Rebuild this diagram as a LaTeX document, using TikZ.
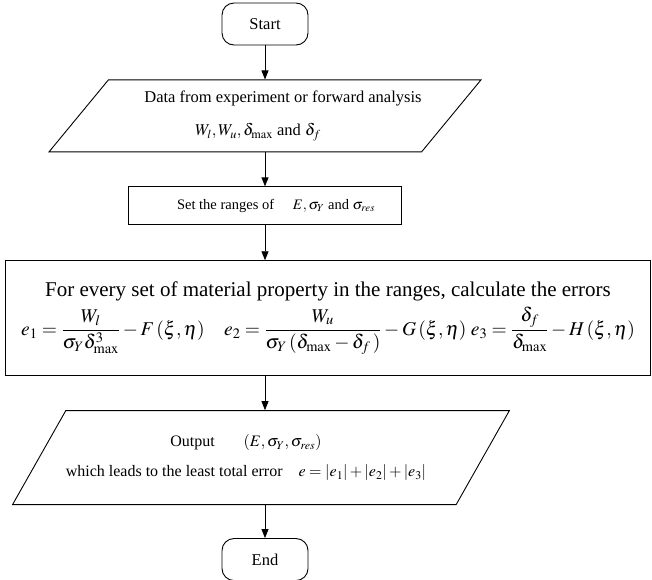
\documentclass[tikz,border=0pt]{standalone}
\usepackage{mathptmx}
\usepackage{fontspec}
\setmainfont{Liberation Serif}
\usetikzlibrary{arrows.meta,positioning,shapes.geometric}

\begin{document}
\begin{tikzpicture}[
            x=1pt, y=1pt,
            % Stili dei blocchi
            terminal/.style={rectangle, rounded corners=12pt, draw=black, line width=0.9pt, minimum width=86pt, minimum height=42pt, font=\fontsize{16.5}{20}\selectfont},
            io/.style={trapezium, trapezium stretches body, draw=black, line width=0.9pt, align=center, inner xsep=0pt, font=\fontsize{16.5}{20}\selectfont},
            process/.style={rectangle, draw=black, line width=0.9pt, align=center, inner xsep=2pt},
            arrow/.style={line width=0.8pt, -{Triangle[length=9pt,width=7pt]}}
        ]

        \useasboundingbox (0,0) rectangle (652,-579);

        % Nodi
        \node (start) [terminal] at (265,-24) {Start};

        \node (data) [io, below=34pt of start, trapezium left angle=43.5, trapezium right angle=136.5, minimum width=388pt, minimum height=72pt]
            {\hspace*{36pt}Data from experiment or forward analysis\\[13pt]
             $W_l, W_u, \delta_{\max}$ and $\delta_f$\hspace*{14pt}};

        \node (ranges) [process, below=34pt of data, minimum width=273pt, minimum height=38pt, font=\fontsize{14.5}{18}\selectfont]
            {\hspace*{22pt}Set the ranges of\hspace{1.3em}$E, \sigma_Y$ and $\sigma_{res}$};

        % Blocco largo, spostato a destra
        \node (errors) [process, below=35pt of ranges, xshift=63pt, minimum width=645pt, minimum height=115pt, font=\fontsize{21}{24}\selectfont]
            {For every set of material property in the ranges, calculate the errors\\[5pt]
             {\fontsize{19.5}{23}\selectfont
             $\displaystyle e_1=\frac{W_l}{\sigma_Y\delta_{\max}^3}-F\,(\xi,\eta)\quad
              e_2=\frac{W_u}{\sigma_Y\,(\delta_{\max}-\delta_f\,)}-G\,(\xi,\eta)\;
              e_3=\frac{\delta_f}{\delta_{\max}}-H\,(\xi,\eta)$}};

        \node (output) [io, below=34pt of errors, xshift=-67pt, trapezium left angle=44.7, trapezium right angle=135.3, minimum width=478pt, minimum height=94pt, font=\fontsize{16}{19}\selectfont]
            {Output\hspace{1.8em}$(E,\sigma_Y,\sigma_{res})$\hspace*{30pt}\\[11pt]
             which leads to the least total error\hspace{1em}$e=|e_1|+|e_2|+|e_3|$\hspace*{30pt}};

        \node (end) [terminal, below=33pt of output, xshift=4pt] {End};

        % Collegamenti
        \draw [arrow] (start.south) -- (start.south |- data.north);
        \draw [arrow] (start.south |- data.south) -- (start.south |- ranges.north);
        \draw [arrow] (ranges.south) -- (ranges.south |- errors.north);
        \draw [arrow] (ranges.south |- errors.south) -- (ranges.south |- output.north);
        \draw [arrow] (ranges.south |- output.south) -- (end.north);

    \end{tikzpicture}
\end{document}
